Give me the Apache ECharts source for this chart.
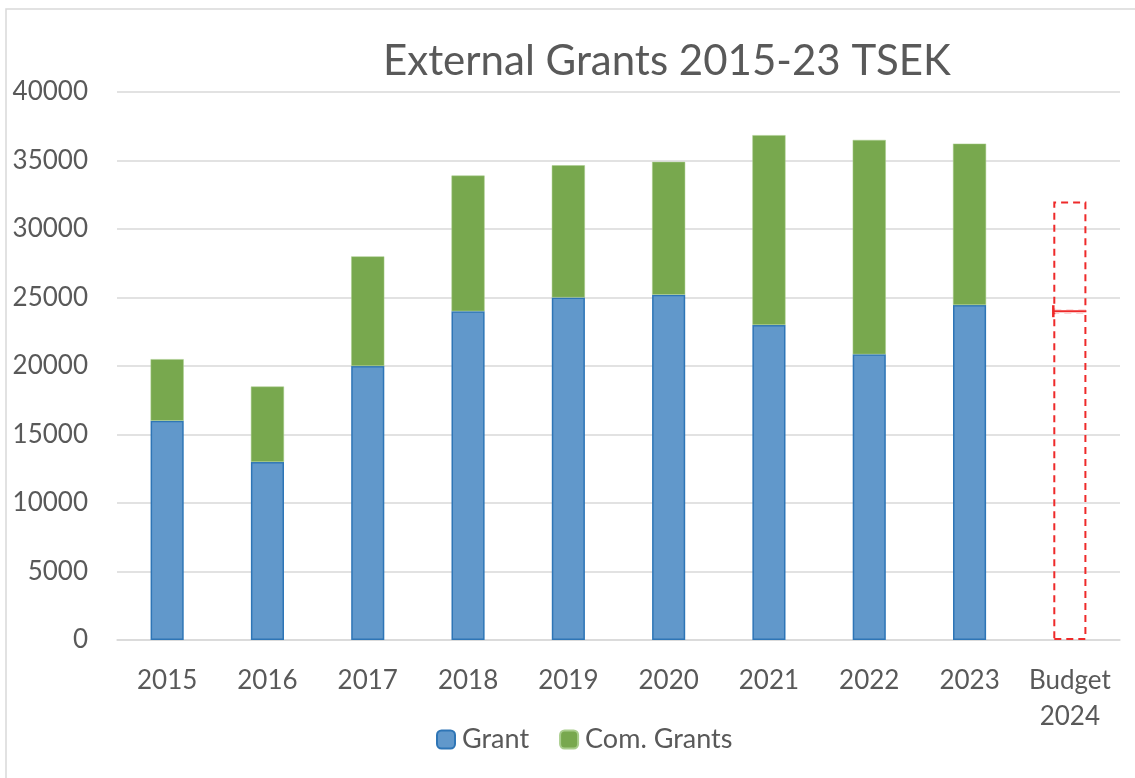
<!DOCTYPE html>
<html>
<head>
<meta charset="utf-8">
<script src="https://cdn.jsdelivr.net/npm/echarts@6/dist/echarts.min.js"></script>
<style>
html,body{margin:0;padding:0;background:#fff;}
#chart{width:1135px;height:778px;}
</style>
</head>
<body>
<div id="chart"></div>
<script>
const categories = ['2015','2016','2017','2018','2019','2020','2021','2022','2023','Budget\n2024'];
const grant = [16000, 13000, 20000, 24000, 25000, 25200, 23000, 20850, 24450, 24000];
const comGrants = [4500, 5500, 8000, 9900, 9650, 9700, 13850, 15650, 11780, 8000];
const budgetMarker = [[9, 24000]];
const yTicks = [0, 5000, 10000, 15000, 20000, 25000, 30000, 35000, 40000];

const FONT = 'Lato, "Open Sans", sans-serif';
const TXT = '#595959';
const budgetStyle = {
  color: 'rgba(0,0,0,0)',
  borderColor: '#EE2A2A',
  borderWidth: 2,
  borderType: [7, 5]
};

const grantData = grant.map((v, i) => i === categories.length - 1 ? {value: v, itemStyle: budgetStyle} : v);
const comData = comGrants.map((v, i) => i === categories.length - 1 ? {value: v, itemStyle: budgetStyle} : v);

const chart = echarts.init(document.getElementById('chart'));
chart.setOption({
  backgroundColor: '#fff',
  animation: false,
  title: {
    text: 'External Grants 2015-23 TSEK',
    left: 378, top: 35,
    textStyle: {fontFamily: FONT, fontSize: 42, fontWeight: 'normal', color: TXT}
  },
  graphic: [{
    type: 'rect', shape: {x: 6, y: 9, width: 1200, height: 900},
    style: {fill: 'none', stroke: '#D9D9D9', lineWidth: 1.5}, silent: true, z: -1
  }],
  legend: {
    data: ['Grant', 'Com. Grants'],
    bottom: 20, left: 431,
    itemWidth: 18, itemHeight: 18, itemGap: 30,
    textStyle: {fontFamily: FONT, fontSize: 27, color: TXT, padding: [0, 0, 0, 2]}
  },
  grid: {left: 117, right: 15, top: 92, bottom: 138},
  xAxis: {
    type: 'category', data: categories,
    axisLine: {lineStyle: {color: '#D9D9D9', width: 1.5}},
    axisTick: {show: false},
    axisLabel: {fontFamily: FONT, fontSize: 26, color: TXT, margin: 23, lineHeight: 36, interval: 0}
  },
  yAxis: {
    type: 'value', min: yTicks[0], max: yTicks[yTicks.length - 1], interval: 5000,
    axisLine: {show: false}, axisTick: {show: false},
    splitLine: {lineStyle: {color: '#D9D9D9', width: 1.5}},
    axisLabel: {fontFamily: FONT, fontSize: 26, color: TXT, margin: 29, formatter: v => String(v)}
  },
  series: [
    {
      name: 'Grant', type: 'bar', stack: 'total', barWidth: '33%',
      data: grantData,
      itemStyle: {color: '#6198CB', borderColor: '#2E75B6', borderWidth: 1.5}
    },
    {
      name: 'Com. Grants', type: 'bar', stack: 'total', barWidth: '33%',
      data: comData,
      itemStyle: {color: '#78A84E', borderColor: '#A9CD8C', borderWidth: 0.5}
    },
    {
      name: 'Budget marker', type: 'custom', data: budgetMarker, z: 10,
      renderItem: function (params, api) {
        const p = api.coord([api.value(0), api.value(1)]);
        const w = api.size([1, 0])[0] * 0.33;
        const x0 = p[0] - w / 2, x1 = p[0] + w / 2;
        return {
          type: 'group',
          children: [
            {type: 'rect', shape: {x: x0 + 1, y: p[1] - 2, width: w - 2, height: 4}, style: {fill: '#fff'}},
            {type: 'line', shape: {x1: x0, y1: p[1], x2: x1, y2: p[1]}, style: {stroke: '#EE2A2A', lineWidth: 2}},
            {type: 'line', shape: {x1: x0, y1: p[1] - 6, x2: x0, y2: p[1] + 6}, style: {stroke: '#EE2A2A', lineWidth: 2.5}}
          ]
        };
      }
    }
  ]
});
</script>
</body>
</html>
